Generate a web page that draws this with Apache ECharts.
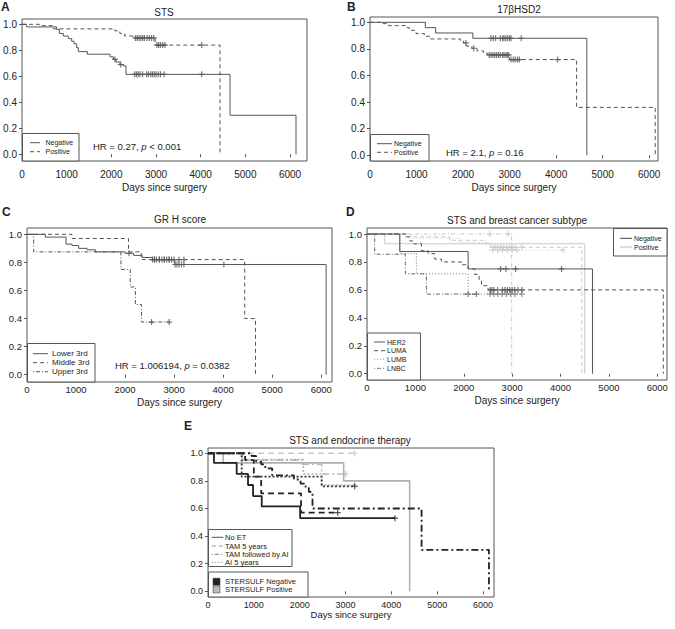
<!DOCTYPE html>
<html>
<head>
<meta charset="utf-8">
<script src="https://cdn.jsdelivr.net/npm/echarts@6/dist/echarts.min.js"></script>
<style>
html, body { margin: 0; padding: 0; background: #fff; }
#chart { width: 675px; height: 629px; }
</style>
</head>
<body>
<div id="chart"></div>
<script>
// ---- data ----
var xTicks = [0, 1000, 2000, 3000, 4000, 5000, 6000];
var yTicks = [0, 0.2, 0.4, 0.6, 0.8, 1.0];

// A: STS
var stsNegT = [104, 776, 836, 925, 1037, 1112, 1164, 1224, 1261, 1463, 1970, 2045, 2104, 2194, 2269, 2328, 4657, 6134];
var stsNegS = [0.98, 0.96, 0.93, 0.91, 0.89, 0.87, 0.85, 0.82, 0.79, 0.77, 0.75, 0.73, 0.71, 0.69, 0.68, 0.615, 0.30, 0];
var stsNegC = [2080, 2210, 2520, 2560, 2600, 2640, 2700, 2790, 2830, 2880, 2920, 2960, 3000, 3050, 3100, 3180, 4022];
var stsPosT = [400, 700, 2080, 2190, 2300, 2490, 2980, 4433];
var stsPosS = [0.99, 0.965, 0.95, 0.93, 0.91, 0.895, 0.84, 0];
var stsPosC = [2540, 2580, 2620, 2660, 2700, 2740, 2800, 2850, 2900, 2950, 3020, 3060, 3100, 3150, 3200, 4022];

// B: 17bHSD2
var hsdNegT = [1190, 1410, 2210, 4660];
var hsdNegS = [0.96, 0.92, 0.88, 0];
var hsdNegC = [2600, 2650, 2700, 2800, 2850, 2880, 2920, 2960, 3000, 3030, 3250];
var hsdPosT = [260, 400, 770, 845, 990, 1170, 1285, 1940, 2010, 2080, 2190, 2300, 2440, 2520, 3000, 4440, 6130];
var hsdPosS = [0.99, 0.975, 0.96, 0.94, 0.915, 0.895, 0.875, 0.865, 0.845, 0.82, 0.805, 0.785, 0.77, 0.755, 0.72, 0.36, 0];
var hsdPosC = [2060, 2230, 2560, 2600, 2640, 2680, 2720, 2760, 2800, 2850, 2880, 2920, 2950, 2980, 3030, 3080, 3120, 3170, 3210, 4030];

// C: GR H score
var grLowT = [374, 796, 918, 1054, 1224, 1395, 2000, 2175, 2350, 2559, 3014, 6100];
var grLowS = [0.98, 0.93, 0.92, 0.90, 0.89, 0.875, 0.865, 0.85, 0.835, 0.82, 0.785, 0];
var grLowC = [2080, 2560, 2600, 2640, 2700, 2750, 2800, 2850, 2900, 2950, 3020, 3060, 3100, 3150, 3200, 4015];
var grMidT = [918, 2070, 2330, 4440, 4660];
var grMidS = [0.97, 0.875, 0.82, 0.40, 0];
var grMidC = [2600, 2700, 2800, 2900, 3000, 3100, 3200];
var grUpT = [136, 1916, 2105, 2210, 2336];
var grUpS = [0.875, 0.75, 0.625, 0.5, 0.375];
var grUpC = [2540, 2900];

// D: STS and breast cancer subtype
var her2NegT = [676, 2090, 4660];
var her2NegS = [0.875, 0.75, 0];
var her2NegC = [2760, 2870, 3070, 4020];
var lumaNegT = [814, 883, 952, 1124, 1262, 1400, 1538, 1952, 2090, 2228, 2317, 2366, 2503, 6124];
var lumaNegS = [0.98, 0.95, 0.93, 0.88, 0.86, 0.82, 0.80, 0.78, 0.75, 0.71, 0.665, 0.63, 0.60, 0];
var lumaNegC = [2550, 2580, 2620, 2700, 2800, 2850, 2900, 2950, 3000, 3050, 3120, 3200];
var lumbNegT = [690, 1021, 2090];
var lumbNegS = [0.86, 0.715, 0.57];
var lumbNegC = [2540, 2620, 2700, 2790, 2880, 2970, 3060, 3200];
var lnbcNegT = [159, 793, 1228];
var lnbcNegS = [0.855, 0.715, 0.57];
var lnbcNegC = [2090, 2262];
var her2PosT = [366, 4500];
var her2PosS = [0.93, 0];
var her2PosC = [];
var lumaPosT = [900, 1700, 2450, 2550, 4440];
var lumaPosS = [0.98, 0.955, 0.93, 0.905, 0];
var lumaPosC = [2600, 2650, 2700, 2760, 2820, 2880, 2940, 3000, 3060, 3200];
var lumbPosT = [800, 1900, 2540];
var lumbPosS = [0.97, 0.94, 0.885];
var lumbPosC = [2600, 2700, 2800, 2900, 3000, 3100, 4050];
var lnbcPosT = [2990];
var lnbcPosS = [0];
var lnbcPosC = [2540, 2920];

// E: STS and endocrine therapy
var noEtNegT = [130, 626, 873, 983, 1172, 2010];
var noEtNegS = [0.93, 0.85, 0.77, 0.69, 0.615, 0.53];
var noEtNegC = [4080];
var tamNegT = [810, 1000, 1160, 2030];
var tamNegS = [0.95, 0.83, 0.71, 0.57];
var tamNegC = [2830];
var tamAiNegT = [950, 1050, 1160, 1250, 1400, 1875, 2020, 2130, 2200, 2280, 4660, 6130];
var tamAiNegS = [0.98, 0.94, 0.92, 0.89, 0.84, 0.81, 0.78, 0.75, 0.72, 0.60, 0.30, 0];
var tamAiNegC = [];
var aiNegT = [735, 2480];
var aiNegS = [0.83, 0.76];
var aiNegC = [3200];
var noEtPosT = [330, 2960, 4400];
var noEtPosS = [0.93, 0.80, 0];
var noEtPosC = [];
var tamPosT = [];
var tamPosS = [];
var tamPosC = [3200];
var tamAiPosT = [760, 2050, 2480];
var tamAiPosS = [0.95, 0.92, 0.85];
var tamAiPosC = [3000];
var aiPosT = [745, 2080, 2480];
var aiPosS = [0.955, 0.85, 0.77];
var aiPosC = [3200];

// ---- layout ----
var FONT = '"Liberation Sans", Arial, sans-serif';
var TXT = '#222';
var grids = [
  { left: 22, top: 19, width: 285, height: 142 },
  { left: 370, top: 17, width: 288, height: 144 },
  { left: 27, top: 228, width: 305, height: 154 },
  { left: 367, top: 228, width: 300, height: 152 },
  { left: 208, top: 448, width: 286, height: 149 }
];
var xMax = [6380, 6190, 6220, 6200, 6240];
var yRange = [[-0.052, 1.041], [-0.043, 1.04], [-0.052, 1.045], [-0.045, 1.043], [-0.041, 1.038]];
var labelMargin = [8, 8, 2, 2, 3];
var nameGap = [21, 21, 15, 15, 11];
var labelSize = [10, 10, 9.5, 9.5, 9];

var DASH = [4, 3], DOT = [1, 2], DOTDASH = [1, 2, 4, 2];
var TDASH = [6, 4], TDOT = [2, 2], TDOTDASH = [7, 3, 2, 3];
var plusSym = 'path://M4,0H6V4H10V6H6V10H4V6H0V4H4Z';

function stepData(t, s, endT) {
  var d = [[0, 1]];
  for (var i = 0; i < t.length; i++) d.push([t[i], s[i]]);
  if (endT != null) d.push([endT, s.length ? s[s.length - 1] : 1]);
  return d;
}
function survAt(t, s, x) {
  var v = 1;
  for (var i = 0; i < t.length; i++) if (t[i] <= x) v = s[i];
  return v;
}
function km(gi, t, s, c, color, width, dash) {
  var last = s.length ? s[s.length - 1] : 1;
  var endT = (last > 0 && c.length) ? c[c.length - 1] : null;
  var out = [{
    type: 'line', step: 'end', xAxisIndex: gi, yAxisIndex: gi,
    data: stepData(t, s, endT), showSymbol: false, silent: true,
    lineStyle: { color: color, width: width, type: dash }, z: 3
  }];
  if (c.length) {
    out.push({
      type: 'scatter', xAxisIndex: gi, yAxisIndex: gi, silent: true,
      data: c.map(function (x) { return [x, survAt(t, s, x)]; }),
      symbol: plusSym, symbolSize: 6,
      itemStyle: { color: color }, z: 4
    });
  }
  return out;
}

var series = [].concat(
  km(0, stsNegT, stsNegS, stsNegC, '#555', 1, 'solid'),
  km(0, stsPosT, stsPosS, stsPosC, '#555', 1, DASH),
  km(1, hsdNegT, hsdNegS, hsdNegC, '#555', 1, 'solid'),
  km(1, hsdPosT, hsdPosS, hsdPosC, '#555', 1, DASH),
  km(2, grLowT, grLowS, grLowC, '#555', 1, 'solid'),
  km(2, grMidT, grMidS, grMidC, '#555', 1, DASH),
  km(2, grUpT, grUpS, grUpC, '#555', 1, DOTDASH),
  km(3, her2PosT, her2PosS, her2PosC, '#c8c8c8', 1, 'solid'),
  km(3, lumaPosT, lumaPosS, lumaPosC, '#c8c8c8', 1, DASH),
  km(3, lumbPosT, lumbPosS, lumbPosC, '#c8c8c8', 1, DOT),
  km(3, lnbcPosT, lnbcPosS, lnbcPosC, '#c8c8c8', 1, DOTDASH),
  km(3, her2NegT, her2NegS, her2NegC, '#555', 1, 'solid'),
  km(3, lumaNegT, lumaNegS, lumaNegC, '#555', 1, DASH),
  km(3, lumbNegT, lumbNegS, lumbNegC, '#777', 1, DOT),
  km(3, lnbcNegT, lnbcNegS, lnbcNegC, '#666', 1, DOTDASH),
  km(4, noEtPosT, noEtPosS, noEtPosC, '#b0b0b0', 1.6, 'solid'),
  km(4, tamPosT, tamPosS, tamPosC, '#c8c8c8', 1.6, TDASH),
  km(4, tamAiPosT, tamAiPosS, tamAiPosC, '#b8b8b8', 1.6, TDOTDASH),
  km(4, aiPosT, aiPosS, aiPosC, '#b0b0b0', 1.6, TDOT),
  km(4, noEtNegT, noEtNegS, noEtNegC, '#222', 1.8, 'solid'),
  km(4, tamNegT, tamNegS, tamNegC, '#222', 1.8, TDASH),
  km(4, tamAiNegT, tamAiNegS, tamAiNegC, '#222', 1.8, TDOTDASH),
  km(4, aiNegT, aiNegS, aiNegC, '#333', 1.8, TDOT)
);

var xAxes = grids.map(function (g, i) {
  return {
    type: 'value', gridIndex: i, min: 0, max: xMax[i],
    name: 'Days since surgery', nameLocation: 'middle', nameGap: nameGap[i],
    nameTextStyle: { fontFamily: FONT, fontSize: i === 4 ? 9.5 : 10, color: TXT },
    axisLine: { show: false }, splitLine: { show: false },
    axisTick: { show: true, length: 3, customValues: xTicks, lineStyle: { color: '#555' } },
    axisLabel: {
      customValues: xTicks, margin: labelMargin[i], fontFamily: FONT, fontSize: labelSize[i], color: TXT,
      formatter: function (v) { return String(v); }
    }
  };
});
var yAxes = grids.map(function (g, i) {
  return {
    type: 'value', gridIndex: i, min: yRange[i][0], max: yRange[i][1],
    axisLine: { show: false }, splitLine: { show: false },
    axisTick: { show: true, length: 3, customValues: yTicks, lineStyle: { color: '#555' } },
    axisLabel: {
      customValues: yTicks, margin: 5, fontFamily: FONT, fontSize: labelSize[i], color: TXT,
      formatter: function (v) { return v.toFixed(1); }
    }
  };
});

// ---- annotations: titles, letters, legends, HR text ----
function txt(x, y, s, size, opt) {
  opt = opt || {};
  return {
    type: 'text', x: x, y: y, silent: true, z: opt.z || 10,
    style: {
      text: s, fontFamily: FONT, fontSize: size, fill: opt.fill || TXT,
      fontWeight: opt.bold ? 'bold' : 'normal', fontStyle: opt.italic ? 'italic' : 'normal',
      align: opt.align || 'left', verticalAlign: opt.va || 'middle'
    }
  };
}
// HR line: plain text with an italic "p", on a white patch so nothing shows through
function hrText(x, y, pre, post) {
  var size = 9.5;
  var ctx = document.createElement('canvas').getContext('2d');
  ctx.font = size + 'px ' + FONT;
  var a = ctx.measureText(pre).width;
  var c = ctx.measureText(post).width;
  ctx.font = 'italic ' + size + 'px ' + FONT;
  var b = ctx.measureText('p').width;
  return [
    { type: 'rect', silent: true, z: 11, shape: { x: x - 1, y: y - 6, width: a + b + c + 2, height: 12 },
      style: { fill: '#fff' } },
    txt(x, y, pre, size, { z: 12 }),
    txt(x + a, y, 'p', size, { italic: true, z: 12 }),
    txt(x + a + b, y, post, size, { z: 12 })
  ];
}
function box(x, y, w, h) {
  return { type: 'rect', silent: true, z: 9, shape: { x: x, y: y, width: w, height: h },
    style: { fill: '#fff', stroke: '#555', lineWidth: 1 } };
}
function seg(x1, x2, y, color, width, dash) {
  return { type: 'line', silent: true, z: 10, shape: { x1: x1, y1: y, x2: x2, y2: y },
    style: { stroke: color, lineWidth: width, lineDash: dash === 'solid' ? null : dash } };
}
function legend(bx, by, bw, bh, items, lx1, lx2, tx, size) {
  var els = [box(bx, by, bw, bh)];
  items.forEach(function (it) {
    if (it.square) {
      els.push({ type: 'rect', silent: true, z: 10, shape: { x: lx1, y: it.y - 3.5, width: 7, height: 7 },
        style: { fill: it.color, stroke: '#333', lineWidth: 0.5 } });
    } else {
      els.push(seg(lx1, lx2, it.y, it.color, it.w || 1, it.dash));
    }
    els.push(txt(tx, it.y, it.label, size));
  });
  return els;
}

var graphics = [].concat(
  [
    txt(1, 1, 'A', 12, { bold: true, va: 'top' }),
    txt(347, 1, 'B', 12, { bold: true, va: 'top' }),
    txt(2, 206, 'C', 12, { bold: true, va: 'top' }),
    txt(346, 206, 'D', 12, { bold: true, va: 'top' }),
    txt(184, 420, 'E', 12, { bold: true, va: 'top' }),
    txt(164, 12, 'STS', 10, { align: 'center' }),
    txt(519, 9, '17\u03b2HSD2', 10, { align: 'center' }),
    txt(180, 219, 'GR H score', 10, { align: 'center' }),
    txt(517, 220, 'STS and breast cancer subtype', 10, { align: 'center' }),
    txt(350, 440, 'STS and endocrine therapy', 10, { align: 'center' })
  ],
  hrText(93, 146, 'HR = 0.27, ', ' < 0.001'),
  hrText(446, 152, 'HR = 2.1, ', ' = 0.16'),
  hrText(115, 365, 'HR = 1.006194, ', ' = 0.0382'),
  legend(22.5, 133.5, 56.5, 27.5, [
    { y: 142.7, label: 'Negative', color: '#555', dash: 'solid' },
    { y: 151.7, label: 'Positive', color: '#555', dash: DASH }
  ], 30, 40, 45.5, 7),
  legend(370.5, 134.5, 58.5, 26.5, [
    { y: 143.7, label: 'Negative', color: '#555', dash: 'solid' },
    { y: 152.3, label: 'Positive', color: '#555', dash: DASH }
  ], 377, 392, 394, 7),
  legend(27.5, 343.5, 67.5, 38.5, [
    { y: 353.7, label: 'Lower 3rd', color: '#555', dash: 'solid' },
    { y: 362.7, label: 'Middle 3rd', color: '#555', dash: DASH },
    { y: 371.7, label: 'Upper 3rd', color: '#555', dash: DOTDASH }
  ], 33, 48, 52, 8),
  legend(613.5, 228.5, 53.5, 27.5, [
    { y: 238.3, label: 'Negative', color: '#444', dash: 'solid' },
    { y: 247, label: 'Positive', color: '#bbb', dash: 'solid' }
  ], 620, 632, 634, 7),
  legend(367.5, 333, 53, 47, [
    { y: 342, label: 'HER2', color: '#555', dash: 'solid' },
    { y: 350.7, label: 'LUMA', color: '#555', dash: DASH },
    { y: 359.3, label: 'LUMB', color: '#999', dash: DOT },
    { y: 368.3, label: 'LNBC', color: '#777', dash: DOTDASH }
  ], 374, 385, 387, 7),
  legend(208.5, 529.5, 83.5, 37, [
    { y: 537.3, label: 'No ET', color: '#555', dash: 'solid' },
    { y: 546, label: 'TAM 5 years', color: '#999', dash: DASH },
    { y: 554.3, label: 'TAM followed by AI', color: '#777', dash: DOTDASH },
    { y: 562.3, label: 'AI 5 years', color: '#777', dash: DOT }
  ], 211.7, 223.3, 225, 7.5),
  legend(208.5, 572, 99.5, 25, [
    { y: 581.7, label: 'STERSULF Negative', color: '#222', square: true },
    { y: 589.5, label: 'STERSULF Positive', color: '#bbb', square: true }
  ], 213, 220, 225, 7.5)
);

var chart = echarts.init(document.getElementById('chart'), null, { renderer: 'svg' });
chart.setOption({
  animation: false,
  backgroundColor: '#fff',
  grid: grids.map(function (g) {
    return { left: g.left, top: g.top, width: g.width, height: g.height, show: true,
      borderColor: '#555', borderWidth: 1, backgroundColor: 'transparent', containLabel: false };
  }),
  xAxis: xAxes,
  yAxis: yAxes,
  series: series,
  graphic: { elements: graphics }
});
</script>
</body>
</html>
